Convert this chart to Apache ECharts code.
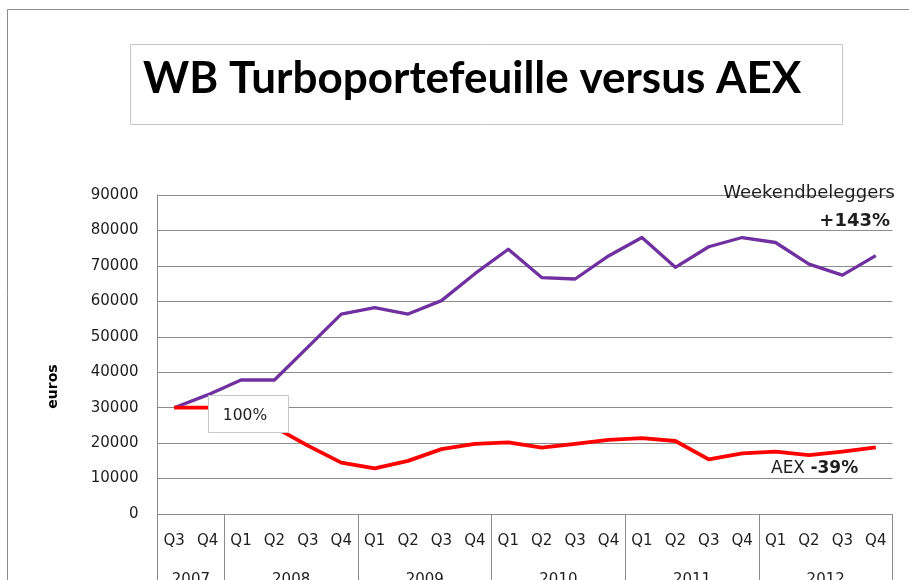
<!DOCTYPE html>
<html>
<head>
<meta charset="utf-8">
<script src="https://cdn.jsdelivr.net/npm/echarts@6/dist/echarts.min.js"></script>
<style>
html,body{margin:0;padding:0;background:#fff;}
#chart{width:909px;height:580px;}
</style>
</head>
<body>
<div id="chart"></div>
<script>
// ---- data ----
const quarters = ['Q3','Q4','Q1','Q2','Q3','Q4','Q1','Q2','Q3','Q4','Q1','Q2','Q3','Q4','Q1','Q2','Q3','Q4','Q1','Q2','Q3','Q4'];
const years = ['2007','2008','2009','2010','2011','2012'];
const quartersPerYear = [2,4,4,4,4,4];
const weekendbeleggers = [30000,33600,37800,37800,47100,56400,58200,56400,60200,67800,74700,66700,66300,72800,78000,69600,75400,78000,76600,70500,67400,72900];
const aex = [30000,30000,28500,24500,19300,14500,12900,15000,18300,19800,20200,18700,19800,20900,21400,20600,15400,17100,17600,16600,17600,18800];
const yMin = 0, yMax = 90000, yStep = 10000;

// year group boundaries and centres (in quarter units)
const boundaries = [0];
quartersPerYear.forEach(n => boundaries.push(boundaries[boundaries.length-1] + n));
const centres = quartersPerYear.map((n,i) => boundaries[i] + n/2);

const gridCol = '#8c8c8c';
const txtCol = '#1e1e1e';
const axisFont = 'DejaVu Sans';

const chart = echarts.init(document.getElementById('chart'));
chart.setOption({
  backgroundColor: '#fff',
  animation: false,
  title: {
    text: 'WB Turboportefeuille versus AEX',
    left: 143, top: 57, padding: 0,
    textStyle: {fontFamily: 'Lato', fontWeight: 'bold', fontSize: 44, color: '#000'}
  },
  grid: {left: 157.5, right: 16.5, top: 195, bottom: 66, containLabel: false, outerBoundsMode: 'none'},
  xAxis: [{
    type: 'category',
    data: quarters,
    position: 'bottom',
    axisLine: {show: true, lineStyle: {color: gridCol, width: 1}},
    axisTick: {show: false},
    axisLabel: {interval: 0, margin: 20, fontFamily: axisFont, fontSize: 15, color: txtCol},
    splitLine: {show: false}
  }, {
    type: 'value',
    min: 0, max: quarters.length,
    position: 'bottom',
    axisLine: {show: false},
    axisTick: {show: true, customValues: boundaries, length: 70, lineStyle: {color: gridCol, width: 1}},
    axisLabel: {
      customValues: centres, margin: 59, fontFamily: axisFont, fontSize: 15, color: txtCol,
      formatter: v => { const i = centres.indexOf(v); return i >= 0 ? years[i] : ''; }
    },
    splitLine: {show: false}
  }],
  yAxis: {
    type: 'value', min: yMin, max: yMax, interval: yStep,
    axisLine: {show: true, lineStyle: {color: gridCol, width: 1}},
    axisTick: {show: false},
    axisLabel: {margin: 19, fontFamily: axisFont, fontSize: 15, color: txtCol, formatter: v => String(v)},
    splitLine: {show: true, lineStyle: {color: gridCol, width: 1}}
  },
  series: [{
    name: 'Weekendbeleggers', type: 'line', data: weekendbeleggers,
    xAxisIndex: 0, yAxisIndex: 0,
    symbol: 'none', lineStyle: {color: '#7030a0', width: 3.3, join: 'round'}, z: 2
  }, {
    name: 'AEX', type: 'line', data: aex,
    xAxisIndex: 0, yAxisIndex: 0,
    symbol: 'none', lineStyle: {color: '#ff0000', width: 3.8, join: 'round'}, z: 3
  }],
  graphic: [
    {type: 'rect', z: 0, silent: true, shape: {x: 7.5, y: 9.5, width: 1000, height: 1000}, style: {fill: null, stroke: '#8c8c8c', lineWidth: 1}},
    {type: 'rect', z: 0, silent: true, shape: {x: 130.5, y: 44.5, width: 712, height: 80}, style: {fill: null, stroke: '#c8c8c8', lineWidth: 1}},
    {type: 'text', z: 100, x: 53.5, y: 386.5, rotation: Math.PI/2,
      style: {text: 'euros', font: 'bold 14px "DejaVu Sans"', fill: '#000', align: 'center', verticalAlign: 'middle'}},
    {type: 'rect', z: 100, shape: {x: 208.5, y: 395.5, width: 80, height: 37}, style: {fill: '#fff', stroke: '#c8c8c8', lineWidth: 1}},
    {type: 'text', z: 101, x: 245, y: 415.5,
      style: {text: '100%', font: '15.5px "DejaVu Sans"', fill: txtCol, align: 'center', verticalAlign: 'middle'}},
    {type: 'text', z: 100, x: 895, y: 193,
      style: {text: 'Weekendbeleggers', font: '18px "DejaVu Sans"', fill: txtCol, align: 'right', verticalAlign: 'middle'}},
    {type: 'text', z: 100, x: 890, y: 221,
      style: {text: '+143%', font: 'bold 18px "DejaVu Sans"', fill: txtCol, align: 'right', verticalAlign: 'middle'}},
    {type: 'text', z: 100, x: 771, y: 469,
      style: {text: '{a|AEX }{b|-39%}', align: 'left', verticalAlign: 'middle',
        rich: {a: {font: '17px "DejaVu Sans"', fill: txtCol}, b: {font: 'bold 17px "DejaVu Sans"', fill: txtCol}}}}
  ]
});
</script>
</body>
</html>
